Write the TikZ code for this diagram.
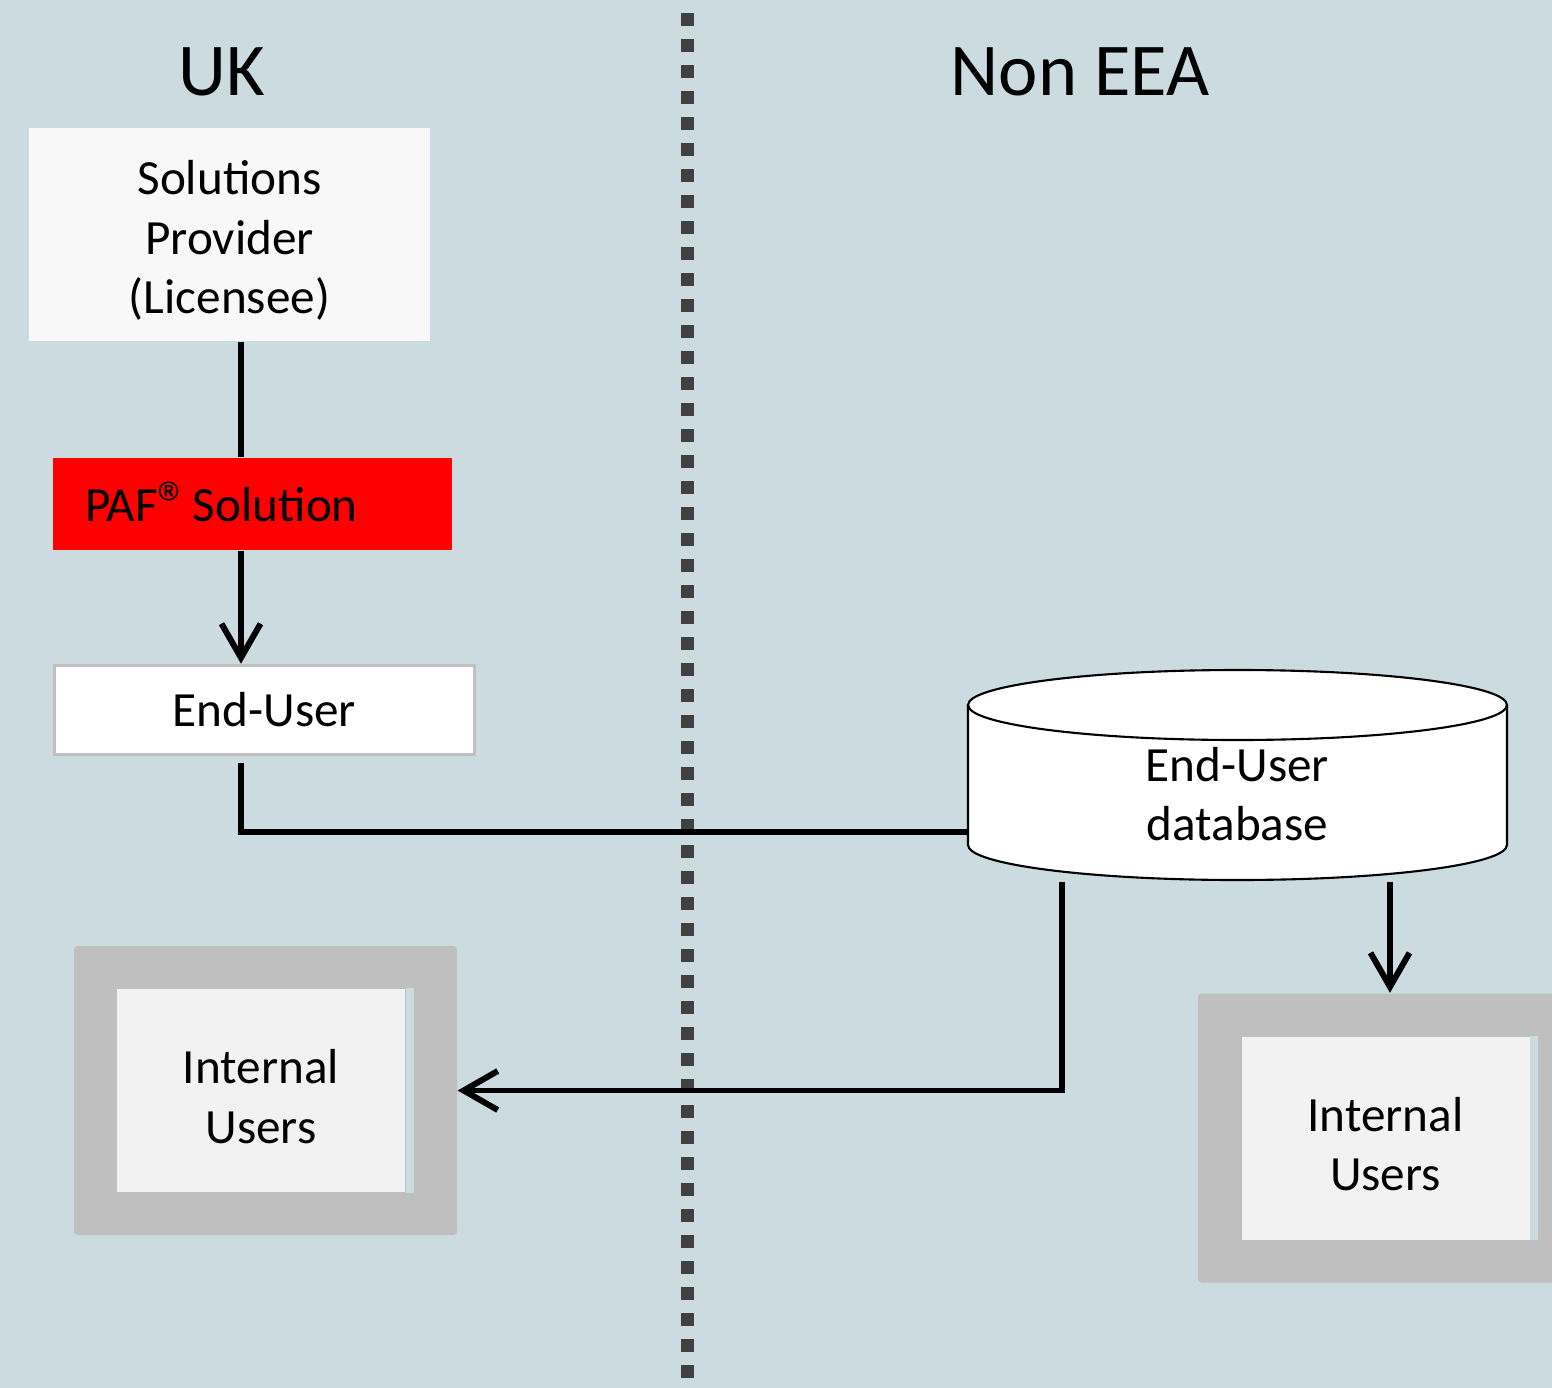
\documentclass[tikz,border=0pt]{standalone}
\usepackage{fontspec}
\setmainfont{Carlito}
\usetikzlibrary{calc}
\usetikzlibrary{arrows.meta}

\definecolor{bgblue}{RGB}{203,219,224}
\definecolor{divider}{RGB}{64,64,64}
\definecolor{frame}{RGB}{191,191,191}
\definecolor{paper}{RGB}{242,242,242}
\definecolor{provfill}{RGB}{248,248,248}
\definecolor{euline}{RGB}{192,192,192}

\begin{document}
\begin{tikzpicture}[
  body/.style={font=\fontsize{14pt}{17pt}\selectfont, align=center, inner sep=0pt},
  head/.style={font=\fontsize{21.2pt}{24pt}\selectfont},
  link/.style={line width=1.7pt},
  tip/.style={-{Straight Barb[length=3.4mm,width=3.9mm]}},
  outer/.style={fill=frame, rounded corners=1pt, minimum width=3.83cm, minimum height=2.89cm, inner sep=0pt},
  inner/.style={fill=paper, minimum width=2.88cm, minimum height=2.03cm, inner sep=0pt}
]

  \useasboundingbox (0,0) rectangle (15.52,-13.88);
  \clip (0,0) rectangle (15.52,-13.88);
  \fill[bgblue] (0,0) rectangle (15.52,-13.88);

  % border between the regions
  \draw[divider, line width=0.13cm, dash pattern=on 0.13cm off 0.13cm] (6.87,-0.13) -- (6.87,-13.88);

  \node[head] (uk) at (2.22,-0.72) {UK};
  \node[head] (noneea) at (10.80,-0.72) {Non EEA};

  \node[fill=provfill, minimum width=4.01cm, minimum height=2.13cm, inner sep=0pt] (prov) at (2.295,-2.345) {};
  \node[body] (provtext) at ([yshift=-0.06cm]prov.center) {Solutions\\Provider\\(Licensee)};
  \node[body, fill=red, minimum height=0.92cm, text width=3.35cm, inner xsep=0.32cm, align=left] (paf) at (2.525,-5.04)
  {PAF{\fontsize{18pt}{18pt}\selectfont\raisebox{-1.2pt}{®}}\kern-3.8pt\ Solution};
  \node[body, fill=white, draw=euline, line width=1pt, minimum width=4.2cm, minimum height=0.89cm] (eu) at (2.645,-7.10)
  {End-User};

  % database drum
  \draw[fill=white, line width=0.6pt] (9.68,-7.05) -- (9.68,-8.45)
    arc[start angle=180, end angle=360, x radius=2.695cm, y radius=0.35cm] -- (15.07,-7.05)
    arc[start angle=0, end angle=180, x radius=2.695cm, y radius=0.35cm] -- cycle;
  \draw[line width=0.6pt] (15.07,-7.05) arc[start angle=0, end angle=-180, x radius=2.695cm, y radius=0.35cm];
  \node[body] (db) at (12.375,-7.94) {End-User\\database};

  \coordinate (dbL) at (9.68,-8.32);
  \coordinate (dbA) at (10.62,-8.82);
  \coordinate (dbB) at (13.90,-8.82);
  \coordinate (spine) at (2.41,-5);

  \node[outer] (iuL) at (2.655,-10.905) {};
  \node[inner] (iuLin) at (2.61,-10.905) {};
  \fill[bgblue] (iuLin.north east) rectangle ([xshift=0.08cm]iuLin.south east);
  \node[body] (iuLtext) at ([yshift=-0.06cm]iuLin.center) {Internal\\Users};

  \node[outer] (iuR) at (13.895,-11.38) {};
  \node[inner] (iuRin) at (13.855,-11.38) {};
  \fill[bgblue] (iuRin.north east) rectangle ([xshift=0.08cm]iuRin.south east);
  \node[body] (iuRtext) at ([yshift=-0.06cm]iuRin.center) {Internal\\Users};

  \draw[link] (prov.south -| spine) -- (paf.north -| spine);
  \draw[link, tip] (paf.south -| spine) -- (eu.north -| spine);
  \draw[link] ($(eu.south -| spine)+(0,-0.07)$) -- (spine |- dbL) -- (dbL);
  \draw[link, tip] (dbA) -- (dbA |- iuL.east) -- (iuL.east);
  \draw[link, tip] (dbB) -- (dbB |- iuR.north);

\end{tikzpicture}
\end{document}
